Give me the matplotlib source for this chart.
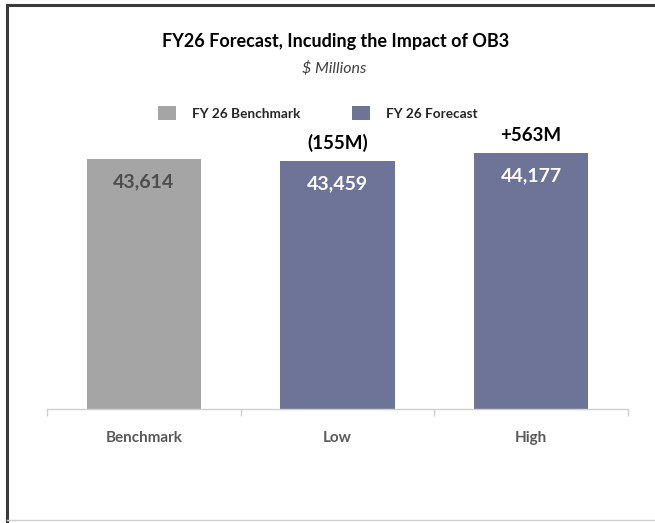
import matplotlib.pyplot as plt
from matplotlib.lines import Line2D
from matplotlib.patches import Patch

plt.rcParams['font.family'] = ['Lato', 'DejaVu Sans']

categories = ["Benchmark", "Low", "High"]
values = [43614, 43459, 44177]
deltas = ["", "(155M)", "+563M"]
legendLabels = ["FY 26 Benchmark", "FY 26 Forecast"]

grayColor = "#A5A5A5"
purpleColor = "#6E7398"
barColors = [grayColor, purpleColor, purpleColor]
valueColors = ["#4D4D4D", "white", "white"]

fig = plt.figure(figsize=(6.55, 5.23), dpi=100)
fig.patch.set_facecolor("white")

#===============================================================
# frame around the figure
#===============================================================
W, H = 655.0, 523.0
fig.add_artist(Line2D([7/W, 1.0], [1-5/H, 1-5/H], color="#3A3A3A", lw=2.2))
fig.add_artist(Line2D([7/W, 7/W], [0.0, 1-5/H], color="#3A3A3A", lw=2.2))
fig.add_artist(Line2D([7/W, 1.0], [3/H, 3/H], color="#D0D0D0", lw=1.0))

#===============================================================
# axes
#===============================================================
ax = fig.add_axes([47/W, (H-409)/H, 581/W, 275.3/H])
x = list(range(len(categories)))
ax.bar(x, values, width=0.59, color=barColors, zorder=2)
ax.set_xlim(-0.5, 2.5)
ax.set_ylim(20000, 46000)

for s in ["top", "right", "left"]:
    ax.spines[s].set_visible(False)
ax.spines["bottom"].set_color("#D0D0D0")
ax.spines["bottom"].set_linewidth(1.0)
ax.set_yticks([])

ax.set_xticks(x)
ax.set_xticklabels(categories, fontsize=11, fontweight="bold", color="#595959")
ax.tick_params(axis="x", which="major", length=0, pad=16)
ax.set_xticks([-0.5, 0.5, 1.5, 2.5], minor=True)
ax.tick_params(axis="x", which="minor", length=5, color="#D0D0D0", width=1.0)

for i, v in enumerate(values):
    ax.annotate(f"{v:,}", xy=(i, v), xytext=(0, -16.5), textcoords="offset points",
                ha="center", va="center", fontsize=14, fontweight="bold",
                color=valueColors[i])
    if deltas[i]:
        ax.annotate(deltas[i], xy=(i, v), xytext=(0, 12.5), textcoords="offset points",
                    ha="center", va="center", fontsize=13.5, fontweight="bold",
                    color="black")

#===============================================================
# title, subtitle, legend
#===============================================================
fig.text(336/W, 1-42/H, "FY26 Forecast, Incuding the Impact of OB3",
         ha="center", va="center", fontsize=13, fontweight="bold", color="black")
fig.text(334/W, 1-69/H, "$ Millions", ha="center", va="center",
         fontsize=11.5, style="italic", color="#404040")

handles = [Patch(facecolor=grayColor), Patch(facecolor=purpleColor)]
fig.legend(handles, legendLabels, loc="center", bbox_to_anchor=(318/W, 1-113/H),
           ncol=2, frameon=False, prop={"size": 9.8, "weight": "bold"},
           handlelength=1.3, handleheight=1.3, handletextpad=1.2,
           columnspacing=3.8, labelcolor="#262626")

fig.savefig("out.png", dpi=100)
